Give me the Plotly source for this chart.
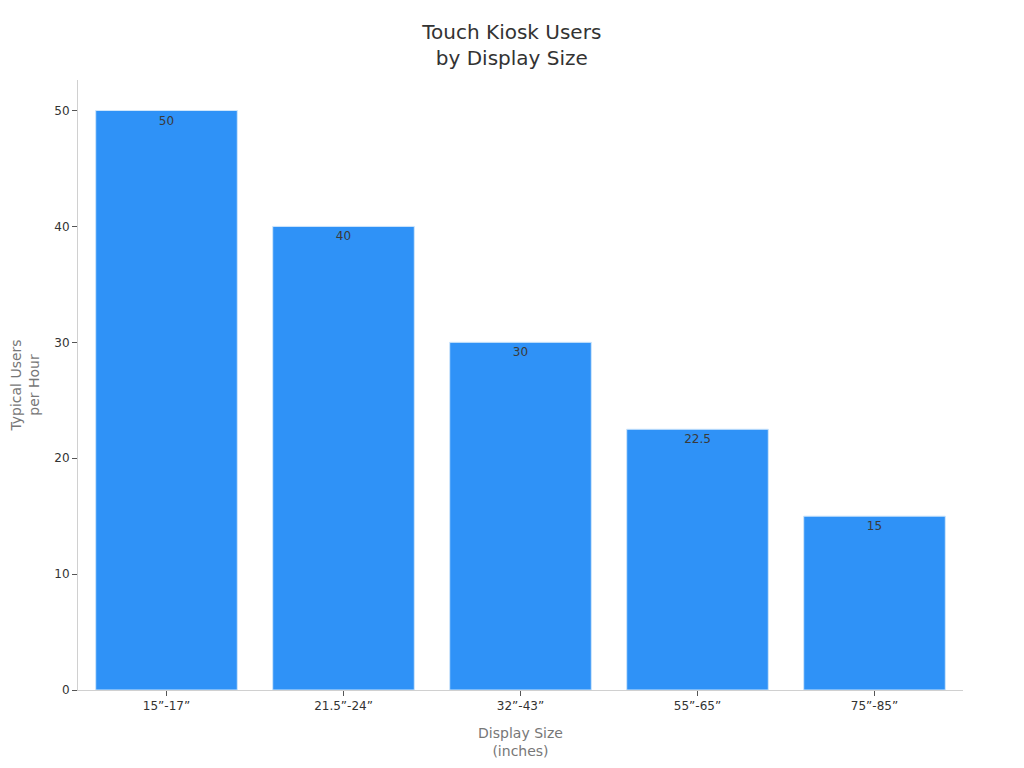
import plotly.graph_objects as go

sizes = ["15”-17”", "21.5”-24”", "32”-43”", "55”-65”", "75”-85”"]
users_per_hour = [50, 40, 30, 22.5, 15]
bar_labels = ["50", "40", "30", "22.5", "15"]

fig = go.Figure(go.Bar(
    x=sizes,
    y=users_per_hour,
    text=bar_labels,
    textposition="inside",
    insidetextanchor="end",
    textfont=dict(color="#3a3a3a", size=12),
    marker=dict(color="#2f92f7", line=dict(color="#cfe6fb", width=1)),
    width=0.8,
))

fig.update_layout(
    title=dict(text="Touch Kiosk Users<br>by Display Size", x=0.492, xanchor="center",
               y=0.959, font=dict(size=20, color="#333333")),
    font=dict(family="DejaVu Sans", size=12, color="#333333"),
    plot_bgcolor="white",
    paper_bgcolor="white",
    width=1024,
    height=768,
    margin=dict(l=70, r=69, t=72, b=86),
    showlegend=False,
)
fig.update_xaxes(
    title=dict(text="Display Size<br>(inches)", font=dict(size=14, color="#777777")),
    showline=True, linecolor="#d0d0d0", ticks="outside", ticklen=5, tickcolor="#555555",
    showgrid=False,
)
fig.update_yaxes(
    title=dict(text="Typical Users<br>per Hour", font=dict(size=14, color="#777777")),
    showline=True, linecolor="#d0d0d0", ticks="outside", ticklen=5, tickcolor="#555555",
    showgrid=False, zeroline=False, dtick=10, automargin=False,
)

fig.write_html("out.html")
